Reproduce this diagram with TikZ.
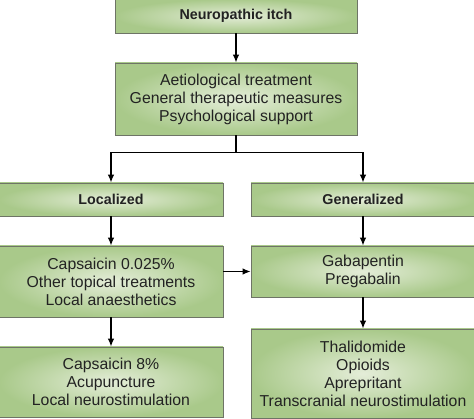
\documentclass[tikz,border=0pt]{standalone}
\usepackage{fontspec}
\setmainfont{Liberation Sans}
\usetikzlibrary{positioning,calc,arrows.meta}
\definecolor{boxout}{HTML}{A9C98A}
\definecolor{boxin}{HTML}{E4EDD8}
\definecolor{boxline}{HTML}{6E7466}
\definecolor{texte}{HTML}{222222}
\tikzset{
	box/.style={draw=boxline, line width=0.9pt, shading=radial, inner color=boxin, outer color=boxout,
		align=center, inner sep=0pt, text=texte, font=\fontsize{15.8}{18}\selectfont},
	titre/.style={box, font=\fontsize{14.3}{18}\selectfont\bfseries},
	fl/.style={line width=1.1pt, -{Latex[length=8pt,width=6.5pt]}}
}

\begin{document}
\begin{tikzpicture}[x=1pt,y=-1pt]
	\useasboundingbox (0,0) rectangle (474,419);
	
	%Boites
	\node[titre, minimum width=242pt, minimum height=34pt] (itch) at (236,16) {Neuropathic itch};
	\node[box, minimum width=242pt, minimum height=72pt] (gen) at (236,99) {Aetiological treatment\\General therapeutic measures\\Psychological support};
	
	\node[titre, minimum width=224pt, minimum height=33pt] (loc) at (111,199.5) {Localized};
	\node[titre, minimum width=224pt, minimum height=33pt] (glob) at (363,199.5) {Generalized};
	
	\node[box, minimum width=224pt, minimum height=71pt] (caps) at (111,281.5) {Capsaicin 0.025\%\\Other topical treatments\\Local anaesthetics};
	\node[box, minimum width=224pt, minimum height=51pt] (gaba) at (363,271.5) {Gabapentin\\Pregabalin};
	
	\node[box, minimum width=224pt, minimum height=70pt] (capsH) at (111,382) {Capsaicin 8\%\\Acupuncture\\Local neurostimulation};
	\node[box, minimum width=224pt, minimum height=89pt] (thal) at (363,373.5) {Thalidomide\\Opioids\\Aprepritant\\Transcranial neurostimulation};
	
	%Fleches
	\coordinate (fork) at ($(gen.south)+(0,17)$);
	\draw[fl] (itch) -- (gen);
	\draw[line width=1.1pt] (gen.south) -- (fork);
	\draw[fl] (fork) -| (loc.north);
	\draw[fl] (fork) -| (glob.north);
	\draw[fl] (loc) -- (caps);
	\draw[fl] (glob) -- (gaba);
	\draw[fl] (caps.east |- gaba.west) -- (gaba.west);
	\draw[fl] (caps) -- (capsH);
	\draw[fl] (gaba) -- (thal);
	
\end{tikzpicture}
\end{document}
